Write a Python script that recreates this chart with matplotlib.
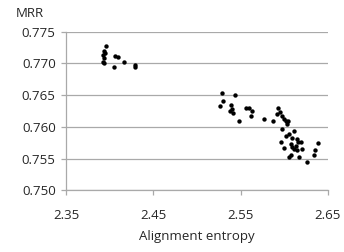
import numpy as np
import matplotlib
matplotlib.use("Agg")
import matplotlib.pyplot as plt

plt.rcParams['font.family'] = ['Open Sans', 'DejaVu Sans']

# -----------------------------
# Data
# -----------------------------
entropy_a = [2.3956, 2.3937, 2.3929, 2.3937, 2.3929, 2.3948, 2.3935,
             2.4063, 2.4090, 2.4055, 2.4167, 2.4285, 2.4293]
mrr_a = [0.7728, 0.7719, 0.7714, 0.7708, 0.7703, 0.7716, 0.7700,
         0.7711, 0.7710, 0.7695, 0.7703, 0.7698, 0.7694]

entropy_b = [2.5290, 2.5434, 2.5301, 2.5259, 2.5385, 2.5405, 2.5416, 2.5377,
             2.5480, 2.5557, 2.5595, 2.5634, 2.5623, 2.5768, 2.5876, 2.5929,
             2.5952, 2.5922, 2.5979, 2.5998, 2.6017, 2.6044, 2.6029, 2.5979,
             2.6055, 2.6113, 2.6017, 2.6094, 2.6152, 2.6159, 2.5960, 2.5998,
             2.6075, 2.6132, 2.6190, 2.6209, 2.6113, 2.6094, 2.6152, 2.6055,
             2.6075, 2.6170, 2.6259, 2.6336, 2.6354, 2.6382]
mrr_b = [0.7654, 0.7650, 0.7641, 0.7633, 0.7634, 0.7628, 0.7622, 0.7625,
         0.7609, 0.7630, 0.7630, 0.7625, 0.7617, 0.7612, 0.7609, 0.7630,
         0.7623, 0.7620, 0.7617, 0.7612, 0.7609, 0.7609, 0.7604, 0.7596,
         0.7589, 0.7594, 0.7586, 0.7582, 0.7581, 0.7576, 0.7576, 0.7566,
         0.7573, 0.7570, 0.7576, 0.7565, 0.7565, 0.7568, 0.7563, 0.7552,
         0.7556, 0.7552, 0.7545, 0.7555, 0.7563, 0.7575]

x_ticks = [2.35, 2.45, 2.55, 2.65]
y_ticks = [0.750, 0.755, 0.760, 0.765, 0.770, 0.775]

# -----------------------------
# Plot
# -----------------------------
fig = plt.figure(figsize=(3.44, 2.52), dpi=100)
ax = fig.add_axes([0.192, 0.245, 0.761, 0.629])

x = entropy_a + entropy_b
y = mrr_a + mrr_b
ax.scatter(x, y, s=10, color="black", linewidths=0, zorder=3)

ax.set_xlim(2.35, 2.65)
ax.set_ylim(0.750, 0.775)
ax.set_xticks(x_ticks)
ax.set_xticklabels([f"{v:.2f}" for v in x_ticks])
ax.set_yticks(y_ticks)
ax.set_yticklabels([f"{v:.3f}" for v in y_ticks])

ax.grid(axis="y", color="#a9a9a9", linewidth=0.9)
ax.set_axisbelow(True)
for side in ["top", "right"]:
    ax.spines[side].set_visible(False)
for side in ["left", "bottom"]:
    ax.spines[side].set_color("#a9a9a9")
    ax.spines[side].set_linewidth(0.9)

ax.tick_params(axis="both", colors="#a9a9a9", labelcolor="#262626",
               labelsize=9.5, length=3.5, width=0.9)
ax.tick_params(axis="x", pad=10)
ax.tick_params(axis="y", pad=4)

ax.set_xlabel("Alignment entropy", fontsize=9.5, color="#262626", labelpad=6)
fig.text(0.045, 0.945, "MRR", fontsize=9.5, color="#262626", va="center")

plt.savefig("out.png", dpi=100)
plt.close()
